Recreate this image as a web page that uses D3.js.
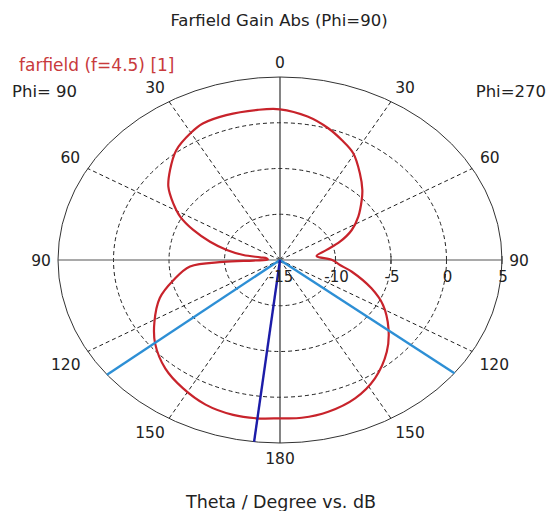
<!DOCTYPE html>
<html>
<head>
<meta charset="utf-8">
<script src="https://cdn.jsdelivr.net/npm/d3@7"></script>
<style>
  html, body { margin: 0; padding: 0; background: #ffffff; }
  svg { display: block; font-family: "DejaVu Sans", Verdana, sans-serif; }
</style>
</head>
<body>
<svg id="chart" width="556" height="511"></svg>
<script>
// ---- data (angle measured from top, clockwise; negative = Phi=90 side) ----
const angleDeg = [-180, -173, -166, -157, -148, -139, -129, -121, -111, -103,
  -95, -92.4, -91.4, -88, -81.2, -80.8, -80.6, -77.1, -72.4, -67.2,
  -62.2, -57.2, -51.4, -45.2, -38, -30, -25, -17, -7, 0,
  9, 16.8, 23, 29.5, 37.2, 44.1, 48.3, 56.1, 63.1, 69.7,
  75.3, 82.4, 90, 95.8, 101.2, 110.6, 117.9, 127.4, 136.2, 146.5,
  155.9, 165.3, 173.5];
const gainDb = [2.3, 2.43, 2.45, 2.17, 1.52, 0.74, -0.52, -1.8, -3.4, -5.14,
  -6.86, -9.86, -12.6, -13.9, -13.8, -13.17, -11.65, -10.08, -8.39, -6.52,
  -4.83, -3.56, -2.13, -1.04, 0.2, 1.05, 1.46, 1.56, 1.53, 1.47,
  0.87, 0.04, -0.76, -1.6, -3.1, -4.34, -5.14, -6.5, -7.75, -9.24,
  -10.66, -11.67, -10.3, -9.57, -8.4, -6.2, -4.5, -2.7, -1.1, 0.5,
  1.56, 2.14, 2.35];
const radialTicks = [-15, -10, -5, 0, 5];
const gridRings = [-10, -5, 0];
const spokeAngles = [30, 60, 120, 150];
const angleLabels = [0, 30, 60, 90, 120, 150, 180];
const beamWidthAngles = [-128.8, 128.2];
const mainLobeAngle = -173.3;
const titleText = "Farfield Gain Abs (Phi=90)";
const legendText = "farfield (f=4.5) [1]";
const axisTitle = "Theta / Degree vs. dB";
const sideLabels = ["Phi= 90", "Phi=270"];

// ---- layout ----
const svg = d3.select("#chart");
const cx = 280, cy = 260;
const RX = 222, RY = 183;
const rMin = -15, rMax = 5;
const rX = d3.scaleLinear().domain([rMin, rMax]).range([0, RX]);
const rY = d3.scaleLinear().domain([rMin, rMax]).range([0, RY]);
const rad = d => d * Math.PI / 180;
const px = (a, g) => cx + rX(g) * Math.sin(rad(a));
const py = (a, g) => cy - rY(g) * Math.cos(rad(a));
const textCol = "#222";

const g = svg.append("g");

// dashed grid rings
g.selectAll("ellipse.ring").data(gridRings).enter().append("ellipse")
  .attr("class", "ring")
  .attr("cx", cx).attr("cy", cy)
  .attr("rx", d => rX(d)).attr("ry", d => rY(d))
  .attr("fill", "none").attr("stroke", "#222").attr("stroke-width", 1)
  .attr("stroke-dasharray", "4,3");

// dashed spokes
const spokes = spokeAngles.flatMap(a => [a, -a]);
g.selectAll("line.spoke").data(spokes).enter().append("line")
  .attr("x1", cx).attr("y1", cy)
  .attr("x2", d => px(d, rMax)).attr("y2", d => py(d, rMax))
  .attr("stroke", "#222").attr("stroke-width", 1).attr("stroke-dasharray", "4,3");

// outer ellipse
g.append("ellipse").attr("cx", cx).attr("cy", cy)
  .attr("rx", rX(rMax)).attr("ry", rY(rMax))
  .attr("fill", "none").attr("stroke", "#333").attr("stroke-width", 1);

// solid axes
g.append("line").attr("x1", px(-90, rMax)).attr("y1", cy).attr("x2", px(90, rMax)).attr("y2", cy)
  .attr("stroke", "#555").attr("stroke-width", 1.2);
g.append("line").attr("x1", cx).attr("y1", py(0, rMax)).attr("x2", cx).attr("y2", py(180, rMax))
  .attr("stroke", "#333").attr("stroke-width", 1.2);

// ticks on horizontal axis
g.selectAll("line.tick").data(radialTicks.slice(1)).enter().append("line")
  .attr("x1", d => px(90, d)).attr("x2", d => px(90, d))
  .attr("y1", cy - 4).attr("y2", cy + 4)
  .attr("stroke", "#333").attr("stroke-width", 1);

// curve
const pts = angleDeg.map((a, i) => [px(a, gainDb[i]), py(a, gainDb[i])]);
g.append("path").attr("d", d3.line().curve(d3.curveCatmullRomClosed.alpha(0.5))(pts))
  .attr("fill", "none").attr("stroke", "#c8232b").attr("stroke-width", 2.2);

// beamwidth lines
g.selectAll("line.bw").data(beamWidthAngles).enter().append("line")
  .attr("x1", cx).attr("y1", cy)
  .attr("x2", d => px(d, rMax)).attr("y2", d => py(d, rMax))
  .attr("stroke", "#2d8fd5").attr("stroke-width", 2.4);
g.append("line").attr("x1", cx).attr("y1", cy)
  .attr("x2", px(mainLobeAngle, rMax)).attr("y2", py(mainLobeAngle, rMax))
  .attr("stroke", "#1c1ca8").attr("stroke-width", 2.4);

// radial tick labels
g.selectAll("text.rt").data(radialTicks).enter().append("text")
  .attr("x", d => px(90, d) + 1).attr("y", cy + 22)
  .attr("text-anchor", "middle").attr("font-size", "15px").attr("fill", textCol)
  .text(d => d);

// angle labels: placed just outside the outer ellipse
const labelOffset = {0: [0, -14.5], 30: [14, -14], 60: [17.5, -11.5], 90: [17, 0],
  120: [22, 12.5], 150: [19, 14.5], 180: [0, 15]};
const labelPos = angleLabels.flatMap(a => (a === 0 || a === 180) ? [a] : [-a, a]);
g.selectAll("text.al").data(labelPos).enter().append("text")
  .attr("x", d => px(d, rMax) + Math.sign(d) * labelOffset[Math.abs(d)][0])
  .attr("y", d => py(d, rMax) + labelOffset[Math.abs(d)][1] + 5.5)
  .attr("text-anchor", "middle").attr("font-size", "15.5px").attr("fill", textCol)
  .text(d => Math.abs(d));

// title, legend, side labels
svg.append("text").attr("x", 279).attr("y", 26).attr("text-anchor", "middle")
  .attr("font-size", "16.5px").attr("fill", textCol).text(titleText);
svg.append("text").attr("x", 19).attr("y", 71).attr("font-size", "17px")
  .attr("fill", "#c83a3c").text(legendText);
svg.append("text").attr("x", 12).attr("y", 97).attr("font-size", "16.5px")
  .attr("fill", textCol).text(sideLabels[0]);
svg.append("text").attr("x", 546).attr("y", 97).attr("text-anchor", "end").attr("font-size", "16.5px")
  .attr("fill", textCol).text(sideLabels[1]);
svg.append("text").attr("x", 281).attr("y", 508).attr("text-anchor", "middle")
  .attr("font-size", "17.5px").attr("fill", textCol).text(axisTitle);
</script>
</body>
</html>
